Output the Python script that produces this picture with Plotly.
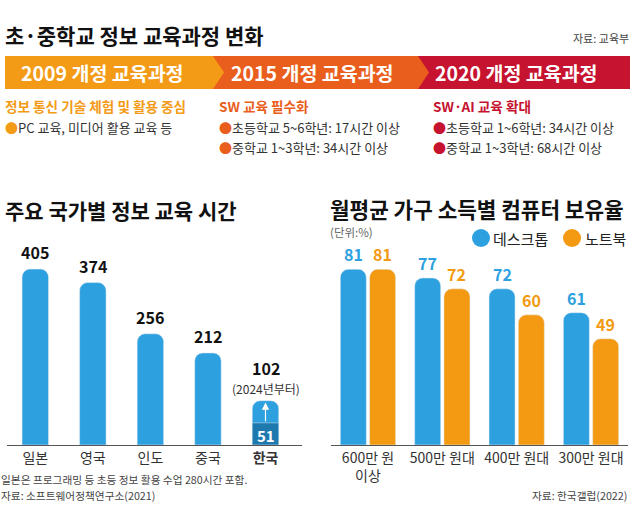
import plotly.graph_objects as go

W, H = 640, 514
FONT = "Noto Sans CJK KR"

# ---------------- data ----------------
countries = ["일본", "영국", "인도", "중국", "한국"]
country_ticks = ["일본", "영국", "인도", "중국", "<b>한국</b>"]
hours = [405, 374, 256, 212, 102]
korea_now = 51

income = ["600만 원", "500만 원대", "400만 원대", "300만 원대"]
income_ticks = ["600만 원<br>이상", "500만 원대", "400만 원대", "300만 원대"]
desktop = [81, 77, 72, 61]
notebook = [81, 72, 60, 49]

stages = ["2009 개정 교육과정", "2015 개정 교육과정", "2020 개정 교육과정"]
stage_heads = ["정보 통신 기술 체험 및 활용 중심", "SW 교육 필수화", "SW·AI 교육 확대"]
stage_items = [
    ["PC 교육, 미디어 활용 교육 등"],
    ["초등학교 5~6학년: 17시간 이상", "중학교 1~3학년: 34시간 이상"],
    ["초등학교 1~6학년: 34시간 이상", "중학교 1~3학년: 68시간 이상"],
]

BLUE = "#2DA1DF"
DARK = "#1E79AE"
ORANGE = "#F39A12"
STAGE_COLORS = ["#F39A17", "#E95E1D", "#C6132F"]


def px(x):
    return x / W


def py(y):
    return (H - y) / H


fig = go.Figure()

# left chart
fig.add_trace(go.Bar(x=countries, y=hours, marker=dict(color=BLUE, cornerradius=8),
                     width=0.46, xaxis="x", yaxis="y", showlegend=False, hoverinfo="skip"))
fig.add_trace(go.Bar(x=[countries[-1]], y=[korea_now], marker=dict(color=DARK, cornerradius=0),
                     width=0.46, xaxis="x", yaxis="y", showlegend=False, hoverinfo="skip"))

# right chart
fig.add_trace(go.Bar(x=income, y=desktop, marker=dict(color=BLUE, cornerradius=8),
                     width=0.35, offset=-0.372, xaxis="x2", yaxis="y2", showlegend=False, hoverinfo="skip"))
fig.add_trace(go.Bar(x=income, y=notebook, marker=dict(color=ORANGE, cornerradius=8),
                     width=0.35, offset=0.022, xaxis="x2", yaxis="y2", showlegend=False, hoverinfo="skip"))

ann = []
# left value labels
for c, v in zip(countries[:-1], hours[:-1]):
    ann.append(dict(x=c, y=v, xref="x", yref="y", text=f"<b>{v}</b>", showarrow=False,
                    yanchor="bottom", yshift=3, font=dict(size=16, color="#111", family=FONT)))
ann.append(dict(x=countries[-1], y=hours[-1], xref="x", yref="y", text=f"<b>{hours[-1]}</b>",
                showarrow=False, yanchor="bottom", yshift=19, font=dict(size=16, color="#111", family=FONT)))
ann.append(dict(x=countries[-1], y=hours[-1], xref="x", yref="y", text="(2024년부터)",
                showarrow=False, yanchor="bottom", yshift=2, font=dict(size=12, color="#333", family=FONT)))
ann.append(dict(x=countries[-1], y=korea_now / 2, xref="x", yref="y", text=f"<b>{korea_now}</b>",
                showarrow=False, yshift=-2, font=dict(size=15, color="white", family=FONT)))
# arrow in Korea bar
ann.append(dict(x=countries[-1], y=hours[-1] - 4, ax=countries[-1], ay=korea_now, xref="x", yref="y",
                axref="x", ayref="y", text="", showarrow=True, arrowhead=2, arrowsize=1.2,
                arrowwidth=1.2, arrowcolor="white"))

# right value labels
for c, v in zip(income, desktop):
    ann.append(dict(x=c, y=v, xref="x2", yref="y2", text=f"<b>{v}</b>", showarrow=False,
                    yanchor="bottom", yshift=2, xshift=-14.6, borderpad=0,
                    font=dict(size=16, color=BLUE, family=FONT)))
for c, v in zip(income, notebook):
    ann.append(dict(x=c, y=v, xref="x2", yref="y2", text=f"<b>{v}</b>", showarrow=False,
                    yanchor="bottom", yshift=2, xshift=14.6, borderpad=0,
                    font=dict(size=16, color=ORANGE, family=FONT)))

# titles and notes
def txt(x, y, s, size, color="#111", xanchor="left", bold=False):
    ann.append(dict(x=px(x), y=py(y), xref="paper", yref="paper", text=f"<b>{s}</b>" if bold else s,
                    showarrow=False, xanchor=xanchor, yanchor="middle", borderpad=0,
                    font=dict(size=size, color=color, family=FONT)))

txt(4, 210, "초·중학교 정보 교육과정 변화", 21, bold=True) if False else None
txt(4, 35, "초·중학교 정보 교육과정 변화", 21, bold=True)
txt(630, 38, "자료: 교육부", 11, color="#444", xanchor="right")

stage_x = [102, 312, 516]
col_x = [4, 218, 432]
for i in range(3):
    txt(stage_x[i], 72.5, stages[i], 19.5, color="white", xanchor="center", bold=True)
    txt(col_x[i], 106, stage_heads[i], 13.6, color=STAGE_COLORS[i], bold=True)
    for j, item in enumerate(stage_items[i]):
        txt(col_x[i], 127 + 20.5 * j,
            f"<span style='color:{STAGE_COLORS[i]}'>●</span>{item}", 13, color="#333")

txt(4, 210, "주요 국가별 정보 교육 시간", 21, bold=True)
txt(329, 208, "월평균 가구 소득별 컴퓨터 보유율", 21.3, bold=True)
txt(329, 232, "(단위:%)", 11.5, color="#666")
txt(492, 238, "데스크톱", 15, color="#222")
txt(584, 238, "노트북", 15, color="#222")
txt(0, 479, "일본은 프로그래밍 등 초등 정보 활용 수업 280시간 포함.", 10.7, color="#444")
txt(0, 495, "자료: 소프트웨어정책연구소(2021)", 10.7, color="#444")
txt(628, 495, "자료: 한국갤럽(2022)", 10.7, color="#444", xanchor="right")

# banner shapes (drawn back to front)
shapes = []
def poly(pts, color):
    d = "M " + " L ".join(f"{px(a):.5f},{py(b):.5f}" for a, b in pts) + " Z"
    shapes.append(dict(type="path", path=d, xref="paper", yref="paper", fillcolor=color,
                       line=dict(width=0), layer="below"))

top, bot, mid = 56, 89, 72.5
poly([(418, top), (630, top), (630, bot), (418, bot)], STAGE_COLORS[2])
poly([(213, top), (418, top), (429, mid), (418, bot), (213, bot)], STAGE_COLORS[1])
poly([(5, top), (213, top), (224, mid), (213, bot), (5, bot)], STAGE_COLORS[0])

# legend circles
for cx, col in [(481, BLUE), (572, ORANGE)]:
    shapes.append(dict(type="circle", xref="paper", yref="paper",
                       x0=px(cx - 9), x1=px(cx + 9), y0=py(238 + 9), y1=py(238 - 9),
                       fillcolor=col, line=dict(width=0)))

base = py(445)
fig.update_layout(
    width=W, height=H, margin=dict(l=0, r=0, t=0, b=0),
    paper_bgcolor="white", plot_bgcolor="white",
    barmode="overlay",
    font=dict(family=FONT, color="#333"),
    annotations=ann, shapes=shapes,
    xaxis=dict(domain=[px(6.5), px(301.5)], tickvals=countries, ticktext=country_ticks,
               showline=True, linecolor="#555", linewidth=1, ticks="", showgrid=False,
               tickfont=dict(size=14, color="#333", family=FONT), fixedrange=True),
    yaxis=dict(domain=[base, py(250)], range=[0, 449], visible=False, fixedrange=True),
    xaxis2=dict(domain=[px(330.8), px(628.2)], tickvals=income, ticktext=income_ticks,
                showline=True, linecolor="#555", linewidth=1, ticks="", showgrid=False,
                anchor="y2", tickfont=dict(size=14, color="#333", family=FONT), fixedrange=True),
    yaxis2=dict(domain=[base, py(250)], range=[0, 89.9], visible=False, anchor="x2", fixedrange=True),
)

fig.write_html("out.html", config={"displayModeBar": False},
               post_script="document.body.style.margin='0';document.body.style.padding='0';")
